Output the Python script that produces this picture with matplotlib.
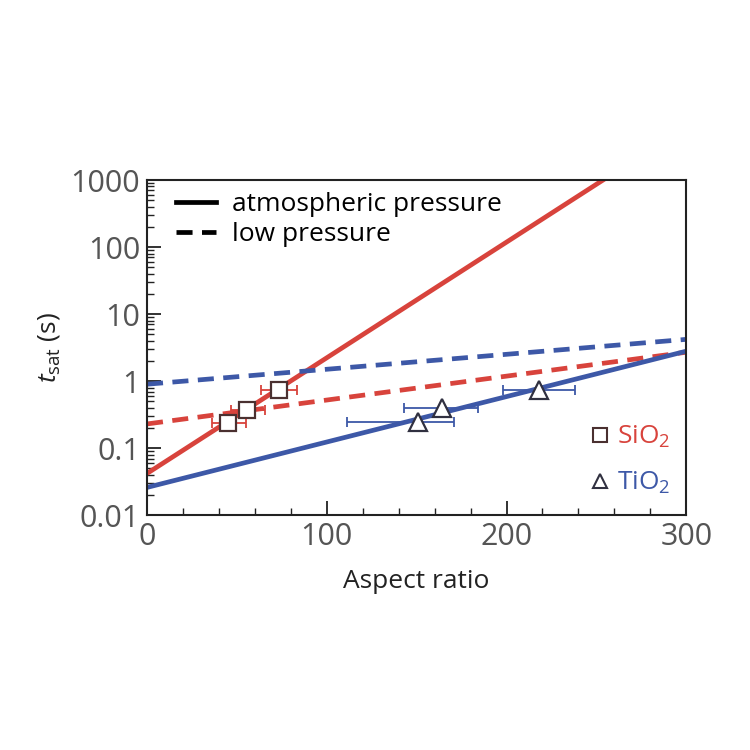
import matplotlib
matplotlib.use('Agg')
import matplotlib.pyplot as plt
from matplotlib.lines import Line2D
from matplotlib.ticker import MultipleLocator, LogLocator, NullFormatter, FixedLocator
import numpy as np

plt.rcParams['font.family'] = ['Open Sans', 'DejaVu Sans']
plt.rcParams['mathtext.fontset'] = 'custom'
plt.rcParams['mathtext.it'] = 'Open Sans:italic'
plt.rcParams['mathtext.rm'] = 'Open Sans'

red = '#d8433c'
blue = '#3d58a7'

# fitted lines: (value at x=0, value at x=300)
x_line = [0, 300]
sio2_atm = [0.042, 10 ** (np.log10(0.042) + 300 * 0.01725)]
sio2_low = [0.23, 2.7]
tio2_atm = [0.026, 2.8]
tio2_low = [0.9, 4.2]

# data points
sio2_x = [45, 55.5, 73.5]
sio2_y = [0.24, 0.37, 0.73]
sio2_xerr = [[9, 9, 10], [10, 10, 10]]
tio2_x = [151, 164, 218]
tio2_y = [0.245, 0.40, 0.74]
tio2_xerr = [[40, 21, 20], [20, 20, 20]]

fig = plt.figure(figsize=(7.5, 7.5), dpi=100)
ax = fig.add_axes([0.196, 0.313, 0.719, 0.447])

lw = 3.4
dash = (0, (3.4, 2.0))
ax.plot(x_line, sio2_atm, color=red, lw=lw, solid_capstyle='butt')
ax.plot(x_line, sio2_low, color=red, lw=lw, ls=dash)
ax.plot(x_line, tio2_atm, color=blue, lw=lw, solid_capstyle='butt')
ax.plot(x_line, tio2_low, color=blue, lw=lw, ls=dash)

ax.errorbar(sio2_x, sio2_y, xerr=sio2_xerr, fmt='none', ecolor=red, elinewidth=1.3, capsize=3.5, capthick=1.3)
ax.errorbar(tio2_x, tio2_y, xerr=tio2_xerr, fmt='none', ecolor=blue, elinewidth=1.3, capsize=3.5, capthick=1.3)
ax.plot(sio2_x, sio2_y, 's', ms=11.5, mfc='white', mec='#4a3030', mew=1.6, zorder=5)
ax.plot(tio2_x, tio2_y, '^', ms=12.5, mfc='white', mec='#303040', mew=1.6, zorder=5)

ax.set_yscale('log')
ax.set_xlim(0, 300)
ax.set_ylim(0.01, 1000)
ax.xaxis.set_major_locator(MultipleLocator(100))
ax.xaxis.set_minor_locator(MultipleLocator(20))
ax.yaxis.set_major_locator(FixedLocator([0.01, 0.1, 1, 10, 100, 1000]))
ax.yaxis.set_major_formatter(matplotlib.ticker.FixedFormatter(['0.01', '0.1', '1', '10', '100', '1000']))
ax.yaxis.set_minor_locator(LogLocator(base=10, subs=np.arange(2, 10)))
ax.yaxis.set_minor_formatter(NullFormatter())
ax.tick_params(which='both', direction='in', top=False, right=False, colors='#222222', labelcolor='#555555')
ax.tick_params(which='major', length=10, width=1.3, labelsize=22, pad=5)
ax.tick_params(which='minor', length=5, width=1.0)
for s in ax.spines.values():
    s.set_linewidth(1.5)
    s.set_color('#222222')

ax.set_xlabel('Aspect ratio', fontsize=19, color='#222222', labelpad=12)
ax.set_ylabel(r'$t_{\rm sat}$ (s)', fontsize=19, color='#222222', labelpad=6)

h1 = [Line2D([], [], color='black', lw=3.4), Line2D([], [], color='black', lw=3.4, ls=dash)]
leg1 = ax.legend(h1, ['atmospheric pressure', 'low pressure'], loc='upper left', frameon=False,
                 fontsize=19, handlelength=1.5, handletextpad=0.6, labelspacing=0.2,
                 borderaxespad=0.3, bbox_to_anchor=(0.02, 1.02))
ax.add_artist(leg1)

h2 = [Line2D([], [], marker='s', ls='none', ms=10, mfc='white', mec='#4a3030', mew=1.5),
      Line2D([], [], marker='^', ls='none', ms=10, mfc='white', mec='#303040', mew=1.5)]
leg2 = ax.legend(h2, ['SiO$_2$', 'TiO$_2$'], loc='lower right', frameon=False, fontsize=19,
                 handlelength=0.7, handletextpad=0.3, labelspacing=0.75, borderaxespad=0.2,
                 bbox_to_anchor=(1.0, 0.01))
leg2.get_texts()[0].set_color(red)
leg2.get_texts()[1].set_color(blue)

fig.savefig('out.png', dpi=100, facecolor='white')
